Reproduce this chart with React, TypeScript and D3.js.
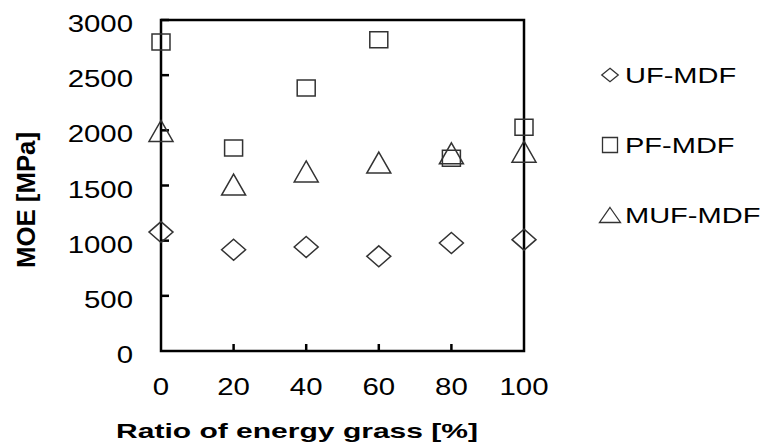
import React from 'react';
import * as d3 from 'd3';

// Ratio of energy grass [%]
const ratios = [0, 20, 40, 60, 80, 100];

// MOE [MPa] per board type
const ufMdf = [1078, 918, 943, 858, 979, 1009];
const pfMdf = [2800, 1840, 2384, 2822, 1746, 2028];
const mufMdf = [1994, 1509, 1627, 1708, 1792, 1806];

const seriesNames = ['UF-MDF', 'PF-MDF', 'MUF-MDF'];
const seriesShapes = ['diamond', 'square', 'triangle'];

const xTicks = [0, 20, 40, 60, 80, 100];
const yTicks = [0, 500, 1000, 1500, 2000, 2500, 3000];

const width = 764;
const height = 447;
const plot = { left: 161, top: 20, right: 524, bottom: 351 };
const FONT = '"Liberation Sans", Arial, Helvetica, sans-serif';
const INK = '#333';

// the picture is stretched sideways, so the texts are too
const TICK_SX = 1.2;
const LEGEND_SX = 1.35;
const TITLE_SX = 1.43;

function markerPath(shape: string, w: number, h: number) {
  if (shape === 'diamond') {
    return `M0,${-h / 2}L${w / 2},0L0,${h / 2}L${-w / 2},0Z`;
  }
  if (shape === 'triangle') {
    return `M0,${-h / 2}L${w / 2},${h / 2}L${-w / 2},${h / 2}Z`;
  }
  return `M${-w / 2},${-h / 2}H${w / 2}V${h / 2}H${-w / 2}Z`;
}

// marker sizes in the plot and in the legend
const plotSize: Record<string, [number, number]> = {
  diamond: [24, 21],
  square: [18, 16],
  triangle: [24, 21],
};
const legendSize: Record<string, [number, number]> = {
  diamond: [16.5, 13.5],
  square: [15, 15],
  triangle: [21, 15],
};

export default function App() {
  const x = d3.scaleLinear().domain([0, 100]).range([plot.left, plot.right]);
  const y = d3.scaleLinear().domain([0, 3000]).range([plot.bottom, plot.top]);

  const series = [ufMdf, pfMdf, mufMdf];

  // legend rows
  const legendY = d3.scalePoint<string>().domain(seriesNames).range([75, 215]);

  return (
    <svg
      width={width}
      height={height}
      style={{ position: 'absolute', left: 0, top: 0, background: '#fff' }}
      fontFamily={FONT}
    >
      {/* frame */}
      <rect
        x={plot.left}
        y={plot.top}
        width={plot.right - plot.left}
        height={plot.bottom - plot.top}
        fill="none"
        stroke="#000"
        strokeWidth={2.5}
      />

      {/* y ticks + labels */}
      {yTicks.map((t) => (
        <g key={`y${t}`}>
          {t > 0 && (
            <line x1={plot.left} x2={plot.left + 8} y1={y(t)} y2={y(t)} stroke="#000" strokeWidth={2.5} />
          )}
          <text
            transform={`translate(133,${y(t) + 12}) scale(${TICK_SX},1)`}
            textAnchor="end"
            fontSize={24.5}
            fill="#000"
          >
            {t}
          </text>
        </g>
      ))}

      {/* x ticks + labels */}
      {xTicks.map((t) => (
        <g key={`x${t}`}>
          {t > 0 && t < 100 && (
            <line x1={x(t)} x2={x(t)} y1={plot.bottom} y2={plot.bottom - 7} stroke="#000" strokeWidth={2.5} />
          )}
          <text
            transform={`translate(${x(t)},395) scale(${TICK_SX},1)`}
            textAnchor="middle"
            fontSize={24.5}
            fill="#000"
          >
            {t}
          </text>
        </g>
      ))}

      {/* axis titles */}
      <text
        transform={`translate(116,438) scale(${TITLE_SX},1)`}
        fontSize={21}
        fontWeight="bold"
        fill="#000"
      >
        Ratio of energy grass [%]
      </text>
      <text
        transform="translate(35,200) rotate(-90)"
        textAnchor="middle"
        fontSize={25}
        fontWeight="bold"
        fill="#000"
        textLength={136}
        lengthAdjust="spacingAndGlyphs"
      >
        MOE [MPa]
      </text>

      {/* markers */}
      {series.map((vals, si) => {
        const shape = seriesShapes[si];
        const [w, h] = plotSize[shape];
        return (
          <g key={seriesNames[si]}>
            {vals.map((v, i) => (
              <path
                key={i}
                d={markerPath(shape, w, h)}
                transform={`translate(${x(ratios[i])},${y(v)})`}
                fill="none"
                stroke={INK}
                strokeWidth={1.5}
              />
            ))}
          </g>
        );
      })}

      {/* legend */}
      {seriesNames.map((name, si) => {
        const shape = seriesShapes[si];
        const [w, h] = legendSize[shape];
        const cy = legendY(name) as number;
        return (
          <g key={`leg-${name}`}>
            <path
              d={markerPath(shape, w, h)}
              transform={`translate(610,${cy})`}
              fill="none"
              stroke={INK}
              strokeWidth={1.3}
            />
            <text
              transform={`translate(625,${cy + 8}) scale(${LEGEND_SX},1)`}
              fontSize={21.5}
              fill="#000"
            >
              {name}
            </text>
          </g>
        );
      })}
    </svg>
  );
}
